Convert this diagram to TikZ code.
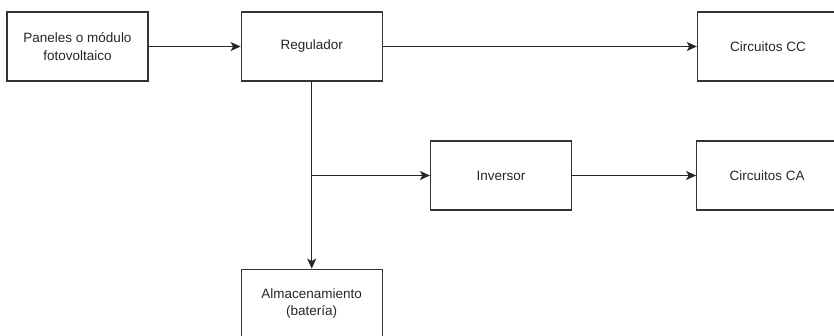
\documentclass[tikz,border=0pt]{standalone}
\usepackage{fontspec}
\setmainfont{Liberation Sans}
\usetikzlibrary{arrows.meta,positioning}
\tikzset{
  bloque/.style={rectangle, draw=black!80, line width=1.2pt,
                 minimum width=141pt, minimum height=69pt, inner sep=0pt,
                 align=center, text=black!85, font=\fontsize{13.5}{17.5}\selectfont},
  flecha/.style={-{Stealth[length=10pt,width=9pt,inset=2.5pt]}, line width=1.2pt, color=black!85},
}
\begin{document}
\begin{tikzpicture}[x=1pt, y=1pt]
    \useasboundingbox (0,0) rectangle (834,-335);
    \clip (0,0) rectangle (834,-335);
    \node[bloque] (pan) at (77.5,-46.5) {Paneles o módulo\\fotovoltaico};
    \node[bloque, right=92pt of pan]  (reg) {Regulador};
    \node[bloque, right=314pt of reg] (cc)  {Circuitos CC};
    \node[bloque, below=187pt of reg] (alm) {Almacenamiento\\(batería)};
    \node[bloque] (inv) at (501,-175.5) {Inversor};
    \node[bloque, right=124pt of inv] (ca)  {Circuitos CA};
    \coordinate (jun) at (reg.south |- inv.west);
    \draw[flecha] (pan)--(reg); \draw[flecha] (reg)--(cc);
    \draw[flecha] (reg)--(alm); \draw[flecha] (jun)--(inv);
    \draw[flecha] (inv)--(ca);
  \end{tikzpicture}
\end{document}
